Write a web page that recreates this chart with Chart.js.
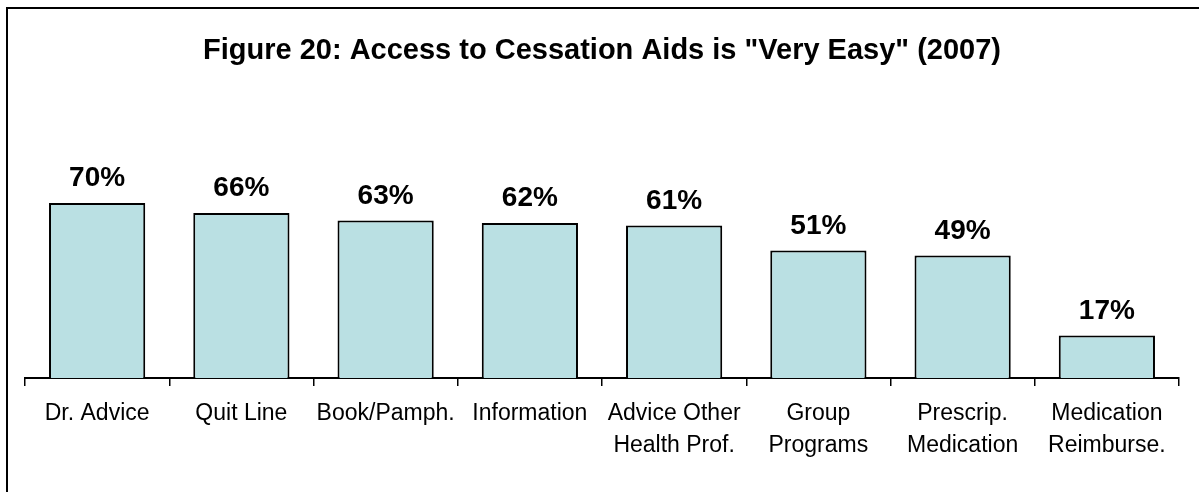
<!DOCTYPE html>
<html>
<head>
<meta charset="utf-8">
<script src="https://cdn.jsdelivr.net/npm/chart.js@4/dist/chart.umd.min.js"></script>
<style>
    html, body { margin: 0; padding: 0; background: #fff; }
    #wrap { position: relative; width: 1199px; height: 492px; overflow: hidden; }
    #frame {
        position: absolute; left: 6px; top: 7px; width: 1300px; height: 600px;
        border-left: 2px solid #000; border-top: 2px solid #000;
    }
    canvas { position: absolute; left: 0; top: 0; }
</style>
</head>
<body>
<div id="wrap">
    <div id="frame"></div>
    <canvas id="accessChart" width="1199" height="492"></canvas>
</div>
<script>
const categories = [
    'Dr. Advice',
    'Quit Line',
    'Book/Pamph.',
    'Information',
    ['Advice Other', 'Health Prof.'],
    ['Group', 'Programs'],
    ['Prescrip.', 'Medication'],
    ['Medication', 'Reimburse.']
];
const veryEasy = [70, 66, 63, 62, 61, 51, 49, 17];

const fontFamily = 'Arial, "Liberation Sans", Helvetica, sans-serif';

// percentage labels above each bar
const valueLabels = {
    id: 'valueLabels',
    afterDatasetsDraw(chart) {
        const ctx = chart.ctx;
        const meta = chart.getDatasetMeta(0);
        ctx.save();
        ctx.font = 'bold 28px ' + fontFamily;
        ctx.fillStyle = '#000';
        ctx.textAlign = 'center';
        ctx.textBaseline = 'alphabetic';
        meta.data.forEach((bar, i) => {
            ctx.fillText(veryEasy[i] + '%', bar.x, bar.y - 17);
        });
        ctx.restore();
    }
};

new Chart(document.getElementById('accessChart'), {
    type: 'bar',
    data: {
        labels: categories,
        datasets: [{
            data: veryEasy,
            backgroundColor: '#BAE0E3',
            borderColor: '#000',
            borderWidth: 2,
            barPercentage: 0.667,
            categoryPercentage: 1
        }]
    },
    options: {
        responsive: false,
        animation: false,
        layout: { padding: { left: 25, right: 20, top: 0, bottom: 0 } },
        plugins: {
            legend: { display: false },
            tooltip: { enabled: false },
            title: {
                display: true,
                text: 'Figure 20: Access to Cessation Aids is "Very Easy" (2007)',
                color: '#000',
                font: { family: fontFamily, size: 29, weight: 'bold' },
                padding: { top: 34, bottom: 59.2 }
            }
        },
        scales: {
            x: {
                grid: {
                    display: true,
                    drawOnChartArea: false,
                    offset: true,
                    color: '#000',
                    lineWidth: 1.5,
                    tickLength: 8
                },
                border: { display: true, color: '#000', width: 2 },
                ticks: {
                    color: '#000',
                    font: { family: fontFamily, size: 23, lineHeight: 1.39 },
                    padding: 12,
                    maxRotation: 0,
                    autoSkip: false
                },
                afterFit(scale) { scale.height = 114; }
            },
            y: {
                display: false,
                min: 0,
                max: 100
            }
        }
    },
    plugins: [valueLabels]
});
</script>
</body>
</html>
